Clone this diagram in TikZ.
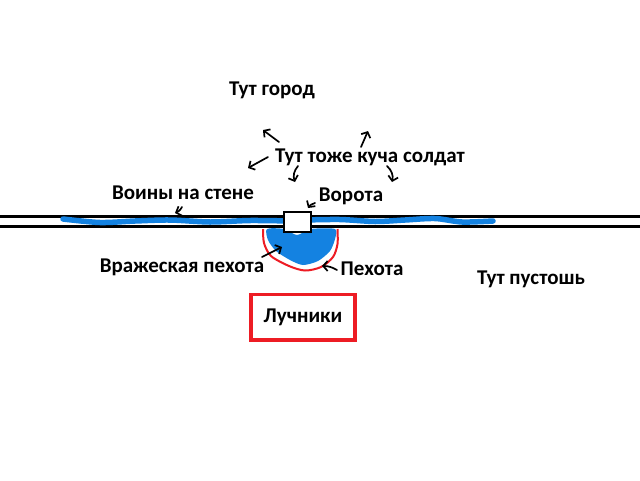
\documentclass[tikz,border=0pt]{standalone}
\usepackage{fontspec}
\setmainfont{Carlito}
\usetikzlibrary{arrows.meta}
\definecolor{paintblue}{RGB}{20,130,225}
\definecolor{paintred}{RGB}{237,28,36}
\tikzset{
	lbl/.style={font=\fontsize{21}{25}\selectfont\bfseries, inner sep=0pt},
	pointer/.style={line width=1.7pt, line cap=round, -{Straight Barb[length=4.5pt,width=10pt]}},
	wall/.style={line width=3pt},
	army/.style={color=paintblue, line width=5.5pt, line cap=round},
}

\begin{document}
\begin{tikzpicture}[x=1pt,y=-1pt]
			%%%%% START %%%%%
			\useasboundingbox[fill=white] (0,0) rectangle (640,480);
			
			% wall
			\draw[wall] (0,216.5) -- (640,216.5);
			\draw[wall] (0,226.5) -- (640,226.5);
			
			% warriors on the wall
			\draw[army] plot[smooth] coordinates {(63,219) (100,222.5) (135,221) (170,220) (210,222) (250,220.5) (290,221)};
			\draw[army] plot[smooth] coordinates {(305,220) (340,219.5) (375,221.5) (405,220) (435,218.5) (462,222) (493,221)};
			
			% enemy infantry and our infantry
			\fill[paintblue] plot[smooth cycle, tension=0.45] coordinates {(267,229) (268,240) (276,251) (290,260) (303,265) (318,261) (330,251) (335,239) (335,229) (311,229) (297,235) (284,229)};
			\draw[paintred, line width=2pt] plot[smooth, tension=0.5] coordinates {(263,229) (264,243) (271,256) (289,266) (305,270.5) (321,267) (333,257) (337.5,244) (337.5,229)};
			
			% gate
			\node[draw, fill=white, line width=2.5pt, minimum width=27pt, minimum height=20pt, inner sep=0pt] (gate) at (297.5,222) {};
			
			% labels
			\node[lbl] (city) at (272,90) {Тут город};
			\node[lbl] (soldiers) at (370,157) {Тут тоже куча солдат};
			\node[lbl] (warriors) at (183,193) {Воины на стене};
			\node[lbl] (gatelbl) at (351,196) {Ворота};
			\node[lbl] (enemy) at (182,267) {Вражеская пехота};
			\node[lbl] (infantry) at (372,269) {Пехота};
			\node[lbl] (waste) at (531,279) {Тут пустошь};
			\node[lbl, draw=paintred, line width=3.3pt, minimum width=104pt, minimum height=45.5pt] (archers) at (303,317.3) {Лучники};
			
			% pointers
			\coordinate (ul0) at (279,142); \coordinate (ul1) at (263,130);
			\coordinate (ur0) at (361,147); \coordinate (ur1) at (368,131);
			\coordinate (dl0) at (268,157); \coordinate (dl1) at (248,168);
			\coordinate (dn0) at (298,166); \coordinate (dn1) at (295,182);
			\coordinate (dr0) at (387,166); \coordinate (dr1) at (392,182);
			\coordinate (wa0) at (182,207); \coordinate (wa1) at (175,213);
			\coordinate (ga0) at (315,203); \coordinate (ga1) at (308,208);
			\coordinate (en0) at (262,257); \coordinate (en1) at (282,247);
			\coordinate (in0) at (337,270); \coordinate (in1) at (322,266);
			
			\draw[pointer] (ul0) -- (ul1);
			\draw[pointer] (ur0) -- (ur1);
			\draw[pointer] (dl0) -- (dl1);
			\draw[pointer] (dn0) to[bend right=30] (dn1);
			\draw[pointer] (dr0) to[bend left=30] (dr1);
			\draw[pointer] (wa0) to[bend left=20] (wa1);
			\draw[pointer] (ga0) to[bend right=20] (ga1);
			\draw[pointer] (en0) -- (en1);
			\draw[pointer] (in0) to[bend right=15] (in1);
			
			%%%%% END %%%%%
\end{tikzpicture}
\end{document}
